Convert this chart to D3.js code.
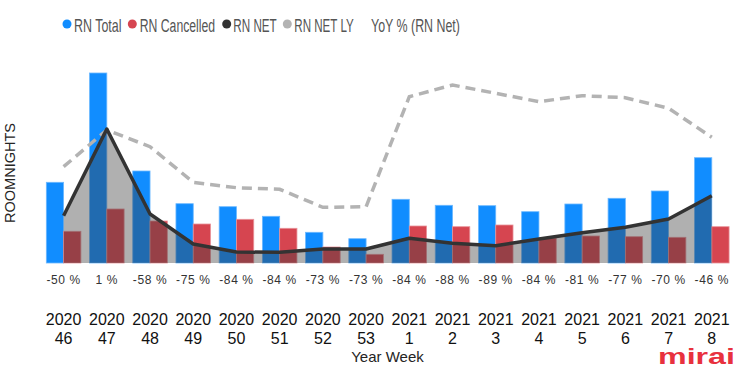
<!DOCTYPE html>
<html>
<head>
<meta charset="utf-8">
<script src="https://cdn.jsdelivr.net/npm/d3@7"></script>
<style>
  body { margin: 0; background: #fff; }
  text { font-family: "Liberation Sans", Arial, sans-serif; }
</style>
</head>
<body>
<div id="chart"></div>
<script>
const years = ["2020","2020","2020","2020","2020","2020","2020","2020","2021","2021","2021","2021","2021","2021","2021","2021"];
const weeks = ["46","47","48","49","50","51","52","53","1","2","3","4","5","6","7","8"];
const rnTotal = [807, 1900, 920, 593, 563, 467, 307, 243, 637, 577, 573, 513, 590, 647, 720, 1053];
const rnCancelled = [317, 540, 420, 390, 437, 347, 160, 87, 370, 363, 380, 250, 270, 263, 257, 363];
const rnNet = [473, 1340, 490, 190, 110, 107, 140, 140, 247, 197, 173, 240, 303, 357, 440, 673];
const rnNetLY = [963, 1330, 1163, 807, 753, 737, 557, 563, 1663, 1780, 1697, 1613, 1673, 1653, 1547, 1257];
const yoy = ["-50 %","1 %","-58 %","-75 %","-84 %","-84 %","-73 %","-73 %","-84 %","-88 %","-89 %","-84 %","-81 %","-77 %","-70 %","-46 %"];

const width = 739, height = 368;
const baseY = 263;

const cats = weeks.map((w, i) => years[i] + "-" + w);

const svg = d3.select("#chart")
  .append("svg")
  .attr("width", width)
  .attr("height", height);

const x = d3.scaleBand().domain(cats).range([42, 733.4]).paddingInner(0.2).paddingOuter(0.1);
const sub = d3.scaleBand().domain(["total", "cancel"]).range([0, x.bandwidth()]);
const y = d3.scaleLinear().domain([0, 2000]).range([baseY, 63]);
const cx = d => x(d) + x.bandwidth() / 2;

// squeeze a text horizontally to a target width (narrow font look)
function fitWidth(sel, w, x0, y0, anchor) {
  sel.each(function() {
    const len = this.getComputedTextLength();
    const s = w / len;
    const dx = anchor === "middle" ? 0 : 0;
    d3.select(this).attr("transform", `translate(${x0},${y0}) scale(${s},1)`);
  });
}

// bars
svg.append("g")
  .selectAll("rect")
  .data(rnTotal)
  .join("rect")
  .attr("x", (d, i) => x(cats[i]) + sub("total"))
  .attr("y", d => y(d))
  .attr("width", sub.bandwidth())
  .attr("height", d => y(0) - y(d))
  .attr("fill", "#118dff")
  .attr("stroke", "#6cb8ff")
  .attr("stroke-width", 0.8);

svg.append("g")
  .selectAll("rect")
  .data(rnCancelled)
  .join("rect")
  .attr("x", (d, i) => x(cats[i]) + sub("cancel"))
  .attr("y", d => y(d))
  .attr("width", sub.bandwidth())
  .attr("height", d => y(0) - y(d))
  .attr("fill", "#d64550")
  .attr("stroke", "#e8939a")
  .attr("stroke-width", 0.8);

// area of RN NET drawn over the bars
const area = d3.area()
  .x((d, i) => cx(cats[i]))
  .y0(y(0))
  .y1(d => y(d));

svg.append("path")
  .datum(rnNet)
  .attr("d", area)
  .attr("fill", "#393939")
  .attr("fill-opacity", 0.4);

const line = d3.line()
  .x((d, i) => cx(cats[i]))
  .y(d => y(d));

svg.append("path")
  .datum(rnNetLY)
  .attr("d", line)
  .attr("fill", "none")
  .attr("stroke", "#b3b3b3")
  .attr("stroke-width", 3.5)
  .attr("stroke-dasharray", "10,6");

svg.append("path")
  .datum(rnNet)
  .attr("d", line)
  .attr("fill", "none")
  .attr("stroke", "#333333")
  .attr("stroke-width", 3.5)
  .attr("stroke-linejoin", "round");

// YoY labels
svg.append("g")
  .attr("font-size", 12)
  .attr("fill", "#333")
  .attr("text-anchor", "middle")
  .attr("letter-spacing", "0.6px")
  .selectAll("text")
  .data(yoy)
  .join("text")
  .attr("x", (d, i) => cx(cats[i]))
  .attr("y", 284)
  .text(d => d);

// x axis labels
const xl = svg.append("g")
  .attr("font-size", 16)
  .attr("fill", "#111")
  .attr("text-anchor", "middle")
  .selectAll("text")
  .data(cats)
  .join("text")
  .attr("transform", d => `translate(${cx(d)},0)`);

xl.selectAll("tspan")
  .data((d, i) => [years[i], weeks[i]])
  .join("tspan")
  .attr("x", 0)
  .attr("y", (d, i) => i ? 344 : 325)
  .text(d => d);

svg.append("text")
  .attr("x", 387.5)
  .attr("y", 361.5)
  .attr("font-size", 15)
  .attr("fill", "#252423")
  .attr("text-anchor", "middle")
  .text("Year Week");

svg.append("text")
  .attr("font-size", 15)
  .attr("fill", "#252423")
  .attr("text-anchor", "middle")
  .text("ROOMNIGHTS")
  .each(function() {
    const s = 100 / this.getComputedTextLength();
    d3.select(this).attr("transform", `translate(15,173) rotate(-90) scale(${s},1)`);
  });

// legend
const legend = [
  { name: "RN Total", color: "#118dff", cx: 67, tx: 74, w: 47.5 },
  { name: "RN Cancelled", color: "#d64550", cx: 132.3, tx: 139.7, w: 75.5 },
  { name: "RN NET", color: "#333333", cx: 226.7, tx: 233.3, w: 43.5 },
  { name: "RN NET LY", color: "#b3b3b3", cx: 287.3, tx: 294.3, w: 59.5 },
  { name: "YoY % (RN Net)", color: "none", cx: 364, tx: 371, w: 89 }
];

const lg = svg.append("g").selectAll("g").data(legend).join("g");
lg.append("circle")
  .attr("cx", d => d.cx)
  .attr("cy", 24)
  .attr("r", 4.5)
  .attr("fill", d => d.color);
lg.append("text")
  .attr("font-size", 18)
  .attr("fill", "#555")
  .text(d => d.name)
  .each(function(d) {
    const s = d.w / this.getComputedTextLength();
    d3.select(this).attr("transform", `translate(${d.tx},31.5) scale(${s},1)`);
  });

// logo
svg.append("text")
  .attr("font-size", 22)
  .attr("font-weight", "bold")
  .attr("fill", "#e8313e")
  .text("mirai")
  .each(function() {
    const s = 77 / this.getComputedTextLength();
    d3.select(this).attr("transform", `translate(658,364) scale(${s},1)`);
  });
</script>
</body>
</html>
